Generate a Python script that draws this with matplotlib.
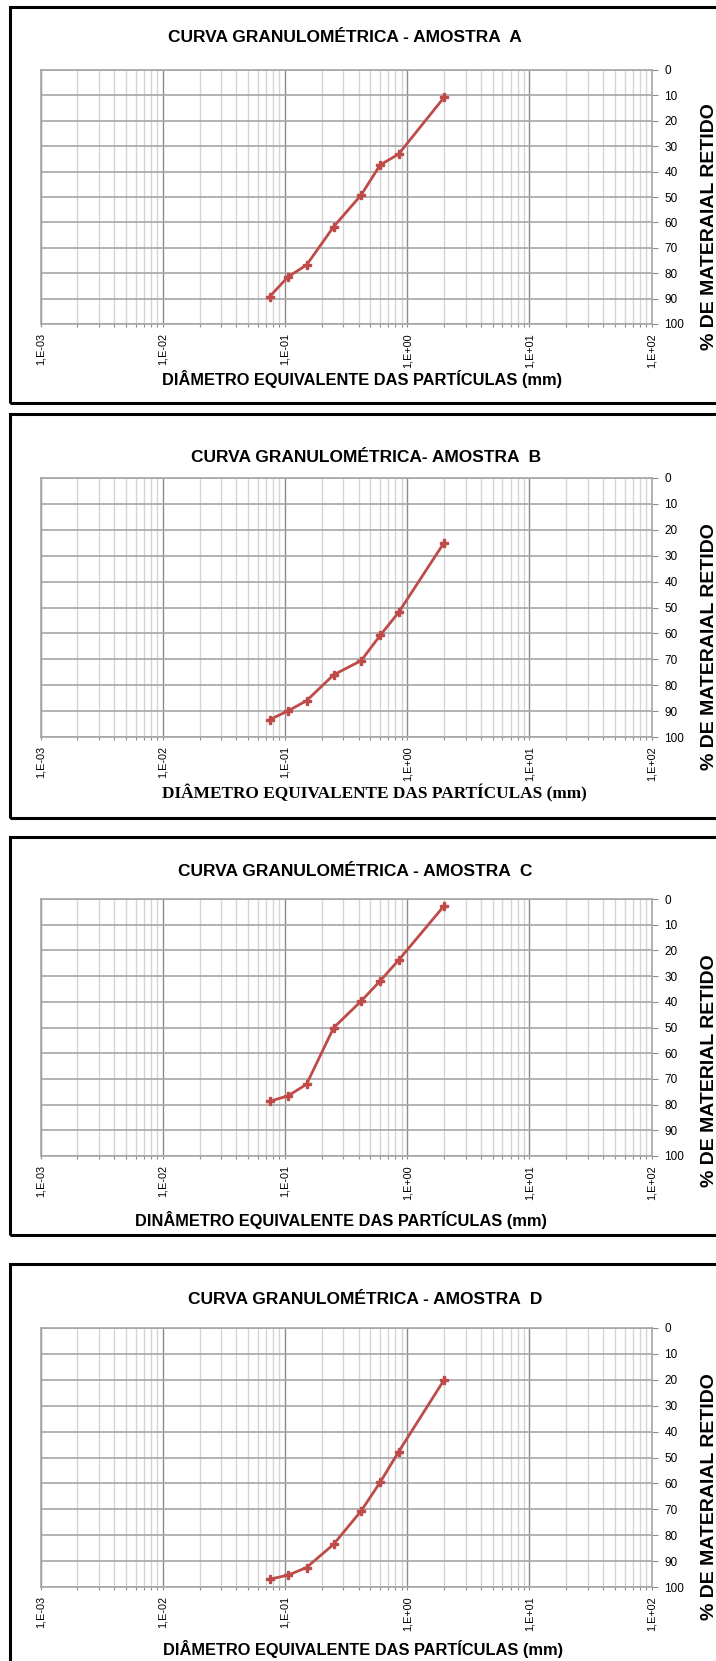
import matplotlib
matplotlib.use("Agg")
import matplotlib.pyplot as plt
import matplotlib.ticker as mticker
from matplotlib.patches import Rectangle
import numpy as np

# Abertura das peneiras (mm) e % retido acumulado de cada amostra
diametro = [0.075, 0.106, 0.15, 0.25, 0.42, 0.6, 0.85, 2.0]
retido_a = [89.2, 81.4, 76.8, 61.7, 49.2, 37.4, 33.1, 10.8]
retido_b = [93.3, 89.9, 86.0, 76.0, 70.5, 60.8, 51.9, 25.0]
retido_c = [78.7, 76.6, 72.1, 50.1, 39.7, 31.9, 23.8, 2.7]
retido_d = [97.0, 95.4, 92.5, 83.5, 70.6, 59.6, 47.8, 20.1]

titulos = ["CURVA GRANULOMÉTRICA - AMOSTRA  A",
           "CURVA GRANULOMÉTRICA- AMOSTRA  B",
           "CURVA GRANULOMÉTRICA - AMOSTRA  C",
           "CURVA GRANULOMÉTRICA - AMOSTRA  D"]
xlabels = ["DIÂMETRO EQUIVALENTE DAS PARTÍCULAS (mm)",
           "DIÂMETRO EQUIVALENTE DAS PARTÍCULAS (mm)",
           "DINÂMETRO EQUIVALENTE DAS PARTÍCULAS (mm)",
           "DIÂMETRO EQUIVALENTE DAS PARTÍCULAS (mm)"]
ylabels = ["% DE MATERAIAL RETIDO", "% DE MATERAIAL RETIDO",
           "% DE MATERIAL RETIDO", "% DE MATERAIAL RETIDO"]
xtick_vals = [1e-3, 1e-2, 1e-1, 1e0, 1e1, 1e2]
xtick_labels = ["1,E-03", "1,E-02", "1,E-01", "1,E+00", "1,E+01", "1,E+02"]
ytick_vals = list(range(0, 101, 10))

W, H = 716, 1661
fig = plt.figure(figsize=(W / 100, H / 100), dpi=100)

SANS = ["Liberation Sans", "DejaVu Sans"]
SERIF = ["Liberation Serif", "DejaVu Serif"]

# layout em pixels: (frame top, frame bottom, axes top, axes bottom,
#                    title y, title x, xlabel y, xlabel x, ylabel y)
layout = [
    (7, 403, 70, 324, 38, 345, 379, 362, 227),
    (414, 818, 478, 737, 457, 366, 793, 374, 647),
    (837, 1235, 899, 1156, 872, 355, 1220, 341, 1071),
    (1264, 1700, 1328, 1587, 1300, 365, 1649, 363, 1497),
]
xlabel_fonts = [SANS, SERIF, SANS, SANS]
xlabel_sizes = [11.8, 12.4, 11.8, 11.8]
series = [retido_a, retido_b, retido_c, retido_d]

ax_left, ax_right = 40.5, 651.7


def fx(x):
    return x / W


def fy(y):
    return 1 - y / H


for i, (ftop, fbot, atop, abot, ty, tx, xly, xlx, yly) in enumerate(layout):
    # moldura preta do gráfico
    fig.patches.append(Rectangle((fx(10), fy(fbot)), fx(720 - 10), (fbot - ftop) / H,
                                 transform=fig.transFigure, fill=False,
                                 edgecolor="black", linewidth=2.2, zorder=0))

    ax = fig.add_axes([fx(ax_left), fy(abot), (ax_right - ax_left) / W, (abot - atop) / H])
    ax.set_xscale("log")
    ax.set_xlim(1e-3, 1e2)
    ax.set_ylim(100, 0)

    ax.plot(diametro, series[i], color="#BE4B48", linewidth=2.0,
            marker="P", markersize=6, zorder=3)

    ax.xaxis.set_major_locator(mticker.FixedLocator(xtick_vals))
    ax.xaxis.set_major_formatter(mticker.FixedFormatter(xtick_labels))
    ax.xaxis.set_minor_locator(mticker.LogLocator(base=10, subs=np.arange(2, 10)))
    ax.xaxis.set_minor_formatter(mticker.NullFormatter())
    ax.set_yticks(ytick_vals)
    ax.yaxis.tick_right()

    ax.tick_params(axis="x", which="both", direction="out", length=2.5, width=0.8,
                   color="#8c8c8c", pad=4, labelsize=7.8, labelrotation=90)
    ax.tick_params(axis="y", direction="out", length=4, width=0.8,
                   color="#8c8c8c", pad=5, labelsize=8.5)
    for lab in ax.get_xticklabels():
        lab.set_family(SANS)
    for lab in ax.get_yticklabels():
        lab.set_family(SANS)

    ax.grid(True, which="minor", axis="x", color="#d4d4d4", linewidth=1.0)
    ax.grid(True, which="major", axis="x", color="#8a8a8a", linewidth=1.0)
    ax.grid(True, which="major", axis="y", color="#a6a6a6", linewidth=1.2)
    ax.set_axisbelow(True)
    for s in ax.spines.values():
        s.set_color("#a6a6a6")
        s.set_linewidth(1.2)

    fig.text(fx(tx), fy(ty), titulos[i], ha="center", va="center",
             fontsize=12.5, fontweight="bold", family=SANS)
    fig.text(fx(xlx), fy(xly), xlabels[i], ha="center", va="center",
             fontsize=xlabel_sizes[i], fontweight="bold", family=xlabel_fonts[i])
    fig.text(fx(709), fy(yly), ylabels[i], ha="center", va="center",
             rotation=90, fontsize=14, fontweight="bold", family=SANS)

fig.savefig("out.png", dpi=100, facecolor="white")
